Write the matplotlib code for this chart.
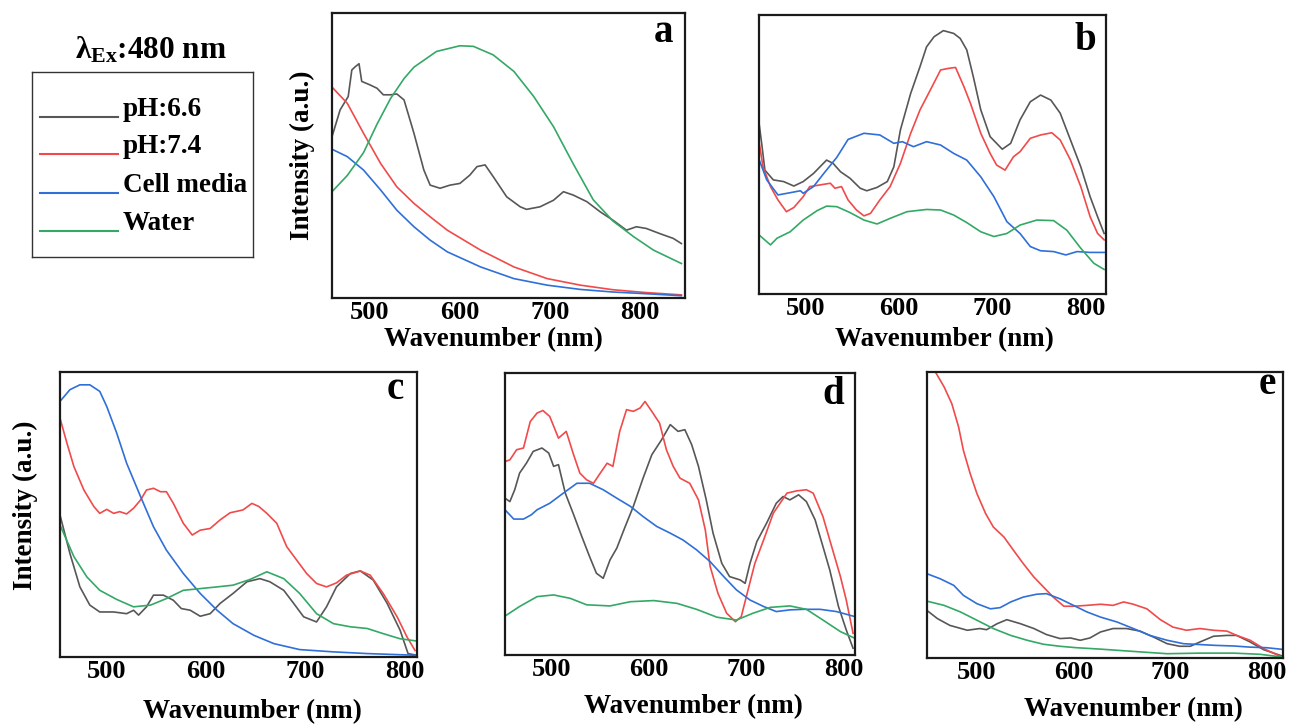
import matplotlib
matplotlib.use('Agg')
import matplotlib.pyplot as plt

plt.rcParams['font.family'] = ['Liberation Serif', 'DejaVu Serif']
plt.rcParams['font.weight'] = 'bold'
plt.rcParams['mathtext.fontset'] = 'custom'
plt.rcParams['mathtext.rm'] = 'Liberation Serif:bold'
plt.rcParams['mathtext.bf'] = 'Liberation Serif:bold'
plt.rcParams['mathtext.it'] = 'Liberation Serif:bold'

# ---------------- data ----------------
SERIES = ['pH:6.6', 'pH:7.4', 'Cell media', 'Water']
COLORS = ['#575757', '#f04a4a', '#2f6fd8', '#34a865']
XTICKS = [500, 600, 700, 800]
PANEL_LETTERS = ['a', 'b', 'c', 'd', 'e']
XLABEL = 'Wavenumber (nm)'
YLABEL = 'Intensity (a.u.)'
LEGEND_TITLE = 'λ$_{\\mathrm{Ex}}$:480 nm'

# panel a
a_gray_x = [458, 467, 476, 480, 484, 488, 491, 500, 508, 515, 523, 530, 538, 549, 560, 567, 578, 589, 600, 611, 619, 628, 637, 652, 667, 674, 689, 704, 715, 726, 741, 756, 770, 785, 796, 807, 822, 837, 846]
a_gray_y = [0.566, 0.66, 0.707, 0.80, 0.812, 0.822, 0.76, 0.748, 0.736, 0.713, 0.713, 0.716, 0.695, 0.578, 0.449, 0.396, 0.385, 0.396, 0.402, 0.431, 0.461, 0.467, 0.426, 0.355, 0.32, 0.311, 0.32, 0.343, 0.373, 0.361, 0.338, 0.302, 0.273, 0.238, 0.25, 0.244, 0.226, 0.209, 0.191]
a_red_x = [458, 475, 493, 512, 530, 549, 567, 586, 623, 660, 697, 734, 770, 807, 846]
a_red_y = [0.74, 0.683, 0.578, 0.472, 0.39, 0.332, 0.285, 0.238, 0.168, 0.109, 0.068, 0.045, 0.029, 0.019, 0.011]
a_blue_x = [458, 475, 493, 512, 530, 549, 567, 586, 623, 660, 697, 734, 770, 807, 846]
a_blue_y = [0.522, 0.496, 0.449, 0.379, 0.308, 0.25, 0.203, 0.162, 0.109, 0.068, 0.045, 0.03, 0.021, 0.015, 0.008]
a_green_x = [458, 475, 493, 508, 523, 538, 549, 574, 600, 615, 637, 660, 682, 704, 726, 748, 770, 793, 815, 846]
a_green_y = [0.373, 0.43, 0.51, 0.61, 0.70, 0.77, 0.81, 0.865, 0.885, 0.883, 0.853, 0.795, 0.707, 0.601, 0.47, 0.345, 0.27, 0.215, 0.168, 0.121]

# panel b
b_gray_x = [451, 454, 457, 466, 477, 488, 498, 509, 516, 523, 530, 538, 548, 559, 566, 577, 588, 595, 602, 613, 623, 630, 638, 648, 659, 666, 673, 680, 688, 698, 711, 720, 730, 741, 752, 763, 773, 784, 795, 805, 813, 820]
b_gray_y = [0.606, 0.528, 0.444, 0.409, 0.403, 0.387, 0.403, 0.432, 0.456, 0.48, 0.468, 0.438, 0.415, 0.379, 0.37, 0.382, 0.403, 0.456, 0.588, 0.719, 0.815, 0.886, 0.922, 0.944, 0.934, 0.916, 0.875, 0.779, 0.66, 0.564, 0.519, 0.54, 0.624, 0.689, 0.713, 0.695, 0.648, 0.552, 0.456, 0.349, 0.277, 0.217]
b_red_x = [451, 455, 463, 471, 480, 488, 498, 505, 516, 527, 532, 539, 546, 555, 563, 570, 580, 591, 602, 613, 623, 634, 645, 654, 661, 670, 677, 688, 698, 705, 714, 723, 730, 741, 752, 764, 773, 784, 795, 805, 813, 820]
b_red_y = [0.54, 0.456, 0.385, 0.337, 0.295, 0.31, 0.349, 0.385, 0.391, 0.397, 0.379, 0.385, 0.337, 0.301, 0.28, 0.289, 0.337, 0.385, 0.468, 0.576, 0.66, 0.731, 0.803, 0.809, 0.812, 0.743, 0.683, 0.576, 0.504, 0.462, 0.444, 0.492, 0.51, 0.558, 0.57, 0.578, 0.552, 0.48, 0.385, 0.277, 0.217, 0.194]
b_blue_x = [451, 459, 471, 484, 495, 498, 509, 520, 534, 546, 563, 580, 595, 604, 616, 630, 645, 659, 673, 688, 702, 716, 730, 741, 752, 766, 779, 791, 805, 820]
b_blue_y = [0.48, 0.409, 0.355, 0.363, 0.37, 0.361, 0.385, 0.432, 0.49, 0.554, 0.576, 0.57, 0.54, 0.546, 0.528, 0.546, 0.534, 0.504, 0.48, 0.42, 0.349, 0.259, 0.217, 0.17, 0.155, 0.152, 0.14, 0.152, 0.149, 0.149]
b_green_x = [451, 463, 470, 484, 498, 513, 523, 534, 548, 563, 577, 591, 609, 630, 645, 659, 673, 688, 702, 716, 730, 748, 766, 780, 795, 809, 820]
b_green_y = [0.211, 0.176, 0.2, 0.223, 0.265, 0.299, 0.315, 0.313, 0.292, 0.265, 0.251, 0.271, 0.295, 0.303, 0.301, 0.283, 0.256, 0.223, 0.206, 0.217, 0.247, 0.265, 0.263, 0.229, 0.164, 0.11, 0.088]

# panel c
c_gray_x = [453, 463, 473, 483, 493, 507, 520, 527, 532, 540, 547, 557, 567, 575, 584, 594, 604, 614, 627, 641, 654, 664, 678, 688, 698, 711, 721, 731, 745, 755, 768, 782, 795, 803, 812]
c_gray_y = [0.498, 0.363, 0.246, 0.182, 0.158, 0.158, 0.152, 0.164, 0.147, 0.176, 0.217, 0.217, 0.199, 0.17, 0.164, 0.143, 0.152, 0.188, 0.223, 0.264, 0.275, 0.264, 0.234, 0.188, 0.141, 0.123, 0.176, 0.246, 0.293, 0.302, 0.27, 0.188, 0.094, 0.012, 0.006]
c_red_x = [453, 460, 467, 477, 487, 493, 500, 507, 513, 520, 527, 534, 540, 547, 554, 560, 567, 577, 586, 594, 604, 614, 624, 637, 646, 653, 661, 671, 681, 691, 701, 711, 721, 731, 741, 755, 765, 778, 792, 802, 810]
c_red_y = [0.838, 0.75, 0.668, 0.586, 0.528, 0.504, 0.518, 0.504, 0.51, 0.502, 0.522, 0.551, 0.586, 0.592, 0.58, 0.58, 0.539, 0.469, 0.428, 0.445, 0.451, 0.481, 0.506, 0.516, 0.539, 0.528, 0.504, 0.469, 0.387, 0.34, 0.293, 0.258, 0.246, 0.26, 0.287, 0.302, 0.287, 0.223, 0.141, 0.07, 0.023]
c_blue_x = [453, 463, 473, 483, 493, 500, 510, 520, 534, 547, 560, 577, 594, 611, 627, 648, 668, 694, 728, 762, 812]
c_blue_y = [0.897, 0.938, 0.955, 0.955, 0.932, 0.879, 0.786, 0.68, 0.563, 0.457, 0.375, 0.293, 0.223, 0.164, 0.117, 0.076, 0.047, 0.026, 0.018, 0.012, 0.006]
c_green_x = [453, 467, 480, 493, 510, 527, 544, 560, 577, 594, 611, 627, 644, 661, 678, 694, 711, 728, 745, 762, 778, 795, 812]
c_green_y = [0.463, 0.352, 0.281, 0.234, 0.202, 0.176, 0.182, 0.205, 0.234, 0.24, 0.246, 0.252, 0.272, 0.299, 0.275, 0.223, 0.152, 0.117, 0.106, 0.1, 0.082, 0.064, 0.056]

# panel d
d_gray_x = [452, 457, 462, 467, 474, 481, 490, 497, 502, 507, 514, 522, 531, 539, 546, 553, 560, 567, 575, 584, 594, 603, 613, 622, 630, 637, 644, 651, 659, 666, 675, 683, 694, 699, 704, 711, 721, 731, 738, 745, 754, 762, 771, 779, 786, 795, 803, 810]
d_gray_y = [0.556, 0.544, 0.586, 0.645, 0.68, 0.722, 0.734, 0.716, 0.669, 0.675, 0.574, 0.503, 0.42, 0.349, 0.29, 0.272, 0.337, 0.379, 0.45, 0.527, 0.627, 0.71, 0.763, 0.817, 0.793, 0.799, 0.746, 0.669, 0.55, 0.432, 0.325, 0.278, 0.266, 0.254, 0.325, 0.402, 0.467, 0.538, 0.562, 0.55, 0.568, 0.544, 0.479, 0.385, 0.302, 0.172, 0.089, 0.024]
d_red_x = [452, 457, 464, 471, 478, 485, 491, 498, 507, 515, 522, 529, 536, 543, 550, 557, 563, 570, 577, 584, 591, 596, 603, 611, 618, 625, 632, 642, 651, 658, 663, 671, 680, 689, 695, 702, 709, 718, 728, 742, 752, 762, 769, 779, 790, 797, 803, 810]
d_red_y = [0.686, 0.692, 0.728, 0.734, 0.828, 0.858, 0.867, 0.846, 0.769, 0.793, 0.716, 0.645, 0.621, 0.609, 0.645, 0.68, 0.669, 0.793, 0.87, 0.864, 0.876, 0.899, 0.864, 0.822, 0.728, 0.669, 0.627, 0.609, 0.55, 0.444, 0.314, 0.219, 0.148, 0.118, 0.136, 0.231, 0.325, 0.408, 0.503, 0.574, 0.582, 0.586, 0.574, 0.491, 0.361, 0.278, 0.195, 0.077]
d_blue_x = [452, 461, 471, 479, 485, 498, 512, 526, 539, 553, 567, 581, 594, 608, 622, 635, 649, 663, 677, 690, 704, 718, 731, 745, 759, 776, 793, 812]
d_blue_y = [0.515, 0.482, 0.482, 0.497, 0.515, 0.538, 0.574, 0.609, 0.609, 0.586, 0.556, 0.527, 0.491, 0.456, 0.432, 0.408, 0.373, 0.331, 0.278, 0.231, 0.195, 0.172, 0.154, 0.16, 0.162, 0.162, 0.154, 0.136]
d_green_x = [452, 467, 485, 502, 519, 536, 560, 581, 605, 629, 649, 670, 690, 707, 725, 745, 762, 779, 797, 812]
d_green_y = [0.138, 0.172, 0.207, 0.213, 0.201, 0.178, 0.174, 0.189, 0.193, 0.183, 0.162, 0.134, 0.124, 0.148, 0.169, 0.174, 0.162, 0.124, 0.083, 0.059]

# panel e
e_gray_x = [448, 459, 472, 490, 503, 510, 521, 531, 545, 559, 572, 586, 597, 607, 617, 628, 641, 655, 669, 683, 697, 710, 721, 731, 745, 759, 769, 783, 797, 817]
e_gray_y = [0.167, 0.138, 0.114, 0.097, 0.103, 0.099, 0.12, 0.134, 0.12, 0.103, 0.082, 0.068, 0.07, 0.062, 0.07, 0.091, 0.103, 0.103, 0.094, 0.073, 0.05, 0.041, 0.041, 0.056, 0.076, 0.079, 0.079, 0.056, 0.029, 0.006]
e_red_x = [448, 457, 466, 474, 481, 486, 493, 500, 509, 517, 528, 538, 548, 559, 569, 579, 590, 600, 614, 628, 641, 652, 662, 676, 690, 703, 717, 731, 745, 759, 769, 783, 797, 814]
e_red_y = [1.12, 1.0, 0.948, 0.889, 0.808, 0.726, 0.645, 0.575, 0.505, 0.458, 0.423, 0.376, 0.33, 0.283, 0.248, 0.213, 0.181, 0.181, 0.184, 0.188, 0.184, 0.196, 0.188, 0.172, 0.134, 0.108, 0.097, 0.103, 0.097, 0.094, 0.079, 0.062, 0.033, 0.006]
e_blue_x = [448, 462, 476, 486, 500, 514, 524, 535, 548, 562, 572, 586, 600, 614, 628, 645, 662, 679, 697, 714, 731, 748, 766, 783, 800, 817]
e_blue_y = [0.295, 0.277, 0.254, 0.219, 0.19, 0.172, 0.176, 0.196, 0.213, 0.223, 0.225, 0.207, 0.184, 0.161, 0.143, 0.126, 0.103, 0.079, 0.062, 0.05, 0.047, 0.044, 0.042, 0.038, 0.036, 0.03]
e_green_x = [448, 466, 483, 500, 517, 535, 552, 569, 586, 603, 628, 662, 697, 731, 766, 793, 817]
e_green_y = [0.199, 0.184, 0.161, 0.132, 0.103, 0.079, 0.062, 0.048, 0.041, 0.036, 0.031, 0.023, 0.015, 0.017, 0.017, 0.013, 0.003]

XLIMS = [(458, 850), (450.7, 822), (453, 812), (452, 812), (448.3, 817)]

# ---------------- figure ----------------
W, H = 1290, 724
fig = plt.figure(figsize=(W / 100, H / 100), dpi=100)


def box(x0, y0, x1, y1):
    return [x0 / W, 1 - y1 / H, (x1 - x0) / W, (y1 - y0) / H]


panel_boxes = [(332, 13, 685, 298), (759, 15, 1106, 294), (60, 372, 417, 657),
               (505, 373, 855, 655), (927, 372, 1283, 658)]
letter_pos = [(0.938, 0.933), (0.939, 0.910), (0.938, 0.940), (0.937, 0.922), (0.955, 0.955)]
xlabel_pos = [(0.456, -0.147), (0.533, -0.165), (0.538, -0.193), (0.537, -0.184), (0.581, -0.182)]
ylabel_pos = {0: (-0.085, 0.50), 2: (-0.098, 0.533)}

panel_data = [
    [(a_gray_x, a_gray_y), (a_red_x, a_red_y), (a_blue_x, a_blue_y), (a_green_x, a_green_y)],
    [(b_gray_x, b_gray_y), (b_red_x, b_red_y), (b_blue_x, b_blue_y), (b_green_x, b_green_y)],
    [(c_gray_x, c_gray_y), (c_red_x, c_red_y), (c_blue_x, c_blue_y), (c_green_x, c_green_y)],
    [(d_gray_x, d_gray_y), (d_red_x, d_red_y), (d_blue_x, d_blue_y), (d_green_x, d_green_y)],
    [(e_gray_x, e_gray_y), (e_red_x, e_red_y), (e_blue_x, e_blue_y), (e_green_x, e_green_y)],
]

for i, (pb, series, xl) in enumerate(zip(panel_boxes, panel_data, XLIMS)):
    ax = fig.add_axes(box(*pb))
    for (xs, ys), col, name in zip(series, COLORS, SERIES):
        ax.plot(xs, ys, color=col, lw=1.2, label=name)
    ax.set_xlim(*xl)
    ax.set_ylim(0, 1)
    ax.set_xticks(XTICKS)
    ax.set_xticklabels([str(t) for t in XTICKS])
    ax.set_yticks([])
    ax.tick_params(axis='x', length=0, pad=2.5, labelsize=19)
    for lab in ax.get_xticklabels():
        lab.set_fontweight('bold')
    for sp in ax.spines.values():
        sp.set_linewidth(1.6)
        sp.set_color('#1a1a1a')
    ax.set_xlabel(XLABEL, fontsize=19.5, fontweight='bold')
    ax.xaxis.set_label_coords(*xlabel_pos[i])
    ax.xaxis.label.set_va('center')
    if i in ylabel_pos:
        ax.set_ylabel(YLABEL, fontsize=19.5, fontweight='bold')
        ax.yaxis.set_label_coords(*ylabel_pos[i])
        ax.yaxis.label.set_va('center')
    ax.text(letter_pos[i][0], letter_pos[i][1], PANEL_LETTERS[i], transform=ax.transAxes,
            ha='center', va='center', fontsize=28, fontweight='bold')

# ---------------- legend ----------------
lx0, ly0, lx1, ly1 = 32, 72, 253, 257
lax = fig.add_axes(box(lx0, ly0, lx1, ly1))
lax.set_xlim(lx0, lx1)
lax.set_ylim(ly1, ly0)
lax.set_xticks([])
lax.set_yticks([])
for sp in lax.spines.values():
    sp.set_linewidth(1.0)
    sp.set_color('#333333')
entry_y = [116.7, 154, 192.7, 230.7]
for yy, col, name in zip(entry_y, COLORS, SERIES):
    lax.plot([40, 118], [yy, yy], color=col, lw=1.5)
    lax.text(123, yy - 1, name, ha='left', va='baseline', fontsize=19.5, fontweight='bold')

fig.text(151 / W, 1 - 50 / H, LEGEND_TITLE, ha='center', va='center', fontsize=22.5, fontweight='bold')

fig.savefig('out.png', dpi=100)
